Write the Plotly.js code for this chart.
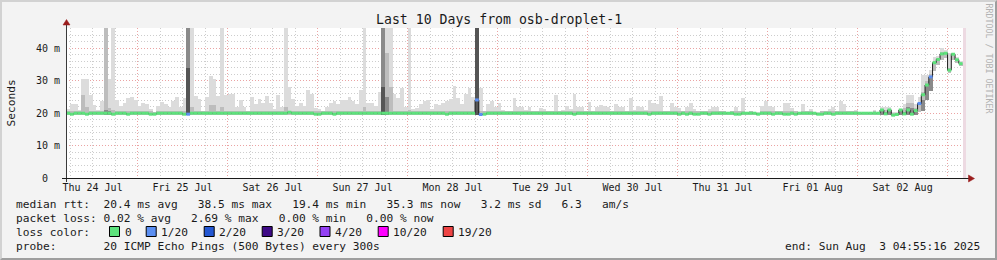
<!DOCTYPE html>
<html><head><meta charset="utf-8">
<script src="https://cdn.plot.ly/plotly-3.0.1.min.js"></script>
<style>
html,body{margin:0;padding:0;background:#f3f3f3;}
#wrap{position:relative;width:997px;height:260px;overflow:hidden;}
#chart{width:997px;height:260px;}
#frame{position:absolute;left:0;top:0;width:997px;height:260px;box-sizing:border-box;border-top:2px solid #d2d2d2;border-left:2px solid #d2d2d2;border-right:2px solid #9e9e9e;border-bottom:2px solid #9e9e9e;pointer-events:none;}
</style></head><body>
<div id="wrap"><div id="chart"></div><div id="frame"></div></div>
<script>
// ---- data: hourly bins, first bin starts 2025-07-24 05:00 ----
const binStart = '2025-07-24T05:00:00Z';
const rangeStart = '2025-07-24 04:55:16';
const rangeEnd = '2025-08-03 04:55:16';

const smokeHi = [
21.4,22.8,22.8,21.0,30.6,30.6,25.7,22.5,21.0,23.7,60,30.6,60,24.1,22.3,23.1,24.6,25.1,24.1,22.3,
23.1,22.8,21.3,20.4,22.3,23.6,22.8,22.0,23.7,25.1,21.8,24.6,60,60,25.4,24.4,20.6,24.9,31.6,30.6,
25.4,60,25.7,25.9,25.9,21.8,24.1,22.0,20.8,24.9,22.8,24.4,23.0,25.4,23.3,21.3,25.7,21.8,60,28.2,
24.4,22.3,23.1,22.3,27.1,25.8,21.6,21.3,20.6,22.0,23.3,23.7,22.8,24.1,24.1,24.9,23.7,22.8,27.1,60,
23.3,23.3,22.3,26.4,60,60,60,25.9,24.6,27.8,22.0,60,21.3,21.6,22.8,23.7,24.1,21.3,22.8,22.5,
23.3,23.7,24.4,28.5,24.6,22.8,25.9,27.8,25.1,60,27.8,20.6,22.8,23.7,22.0,23.3,21.0,20.6,20.6,24.6,
21.8,21.8,21.0,22.0,20.8,20.6,21.6,21.3,20.6,20.6,25.7,20.8,21.0,22.3,21.3,25.9,22.0,22.0,20.6,23.4,
20.6,22.0,22.5,22.3,22.0,20.6,22.8,22.0,22.0,20.6,24.6,21.0,22.3,22.0,21.0,24.1,23.0,22.8,25.4,20.6,
20.6,23.1,22.0,21.6,20.6,21.8,23.1,21.3,20.8,20.6,20.6,21.3,22.0,22.0,20.6,20.6,20.3,20.8,21.8,20.6,
24.6,20.3,20.8,20.5,20.3,22.1,23.7,22.3,21.8,20.6,20.6,23.1,23.1,21.6,20.6,20.3,22.8,20.6,21.3,20.3,
20.3,20.6,20.6,21.3,21.8,20.8,23.7,22.8,20.8,20.6,21.0,20.2,20.2,20.2,20.2,21.0,20.2,21.8,21.8,21.8,
20.4,20.4,21.3,22.8,25.7,25.7,22.8,25.0,31.9,31.9,33.3,37.2,37.7,40.1,39.4,38.5,38.7,37.2,36.0,null];

const smokeLo = [
19.5,19.5,19.5,19.5,19.5,19.5,19.5,19.5,19.5,19.5,19.5,19.5,19.5,19.5,19.5,19.5,19.5,19.5,19.5,19.5,
19.5,19.5,19.5,19.5,19.5,19.5,19.5,19.5,19.5,19.5,19.5,19.5,19.5,19.5,19.5,19.5,19.5,19.5,19.5,19.5,
19.5,19.5,19.5,19.5,19.5,19.5,19.5,19.5,19.5,19.5,19.5,19.5,19.5,19.5,19.5,19.5,19.5,19.5,19.5,19.5,
19.5,19.5,19.5,19.5,19.5,19.5,19.5,19.5,19.5,19.5,19.5,19.5,19.5,19.5,19.5,19.5,19.5,19.5,19.5,19.5,
19.5,19.5,19.5,19.5,19.5,19.5,19.5,19.5,19.5,19.5,19.5,19.5,19.5,19.5,19.5,19.5,19.5,19.5,19.5,19.5,
19.5,19.5,19.5,19.5,19.5,19.5,19.5,19.5,19.5,19.5,19.5,19.5,19.5,19.5,19.5,19.5,19.5,19.5,19.5,19.5,
19.5,19.5,19.5,19.5,19.5,19.5,19.5,19.5,19.5,19.5,19.5,19.5,19.5,19.5,19.5,19.5,19.5,19.5,19.5,19.5,
19.5,19.5,19.5,19.5,19.5,19.5,19.5,19.5,19.5,19.5,19.5,19.5,19.5,19.5,19.5,19.5,19.5,19.5,19.5,19.5,
19.5,19.5,19.5,19.5,19.5,19.5,19.5,19.5,19.5,19.5,19.5,19.5,19.5,19.5,19.5,19.5,19.5,19.5,19.5,19.5,
19.5,19.5,19.5,19.5,19.5,19.5,19.5,19.5,19.5,19.5,19.5,19.5,19.5,19.5,19.5,19.5,19.5,19.5,19.5,19.5,
19.5,19.5,19.5,19.5,19.5,19.5,19.5,19.5,19.5,19.5,19.5,19.5,19.5,19.5,19.5,19.5,19.5,19.3,19.3,19.3,
19.3,19.3,19.3,19.3,19.3,19.3,19.3,20.5,20.6,24.0,27.0,33.0,35.0,36.5,37.0,32.5,36.5,35.5,34.5,null];

const smokeMid = [
20.6,20.6,20.6,20.6,25.6,22.0,20.6,20.6,20.6,20.6,60,21.5,21.0,20.6,20.6,20.6,20.6,20.6,20.6,20.6,
20.6,20.6,20.6,20.4,20.6,20.6,20.6,20.6,20.6,20.6,20.6,20.6,60,22.0,20.6,20.6,20.6,20.6,22.5,22.5,
20.6,22.0,20.6,20.6,20.6,20.6,20.6,20.6,20.6,20.6,20.6,20.6,20.6,20.6,20.6,20.6,20.6,20.6,22.0,20.6,
20.6,20.6,20.6,20.6,20.6,20.6,20.6,20.6,20.6,20.6,20.6,20.6,20.6,20.6,20.6,20.6,20.6,20.6,20.6,22.0,
20.6,20.6,20.6,20.6,60,38.5,28.0,20.6,20.6,20.6,20.6,21.0,20.6,20.6,20.6,20.6,20.6,20.6,20.6,20.6,
20.6,20.6,20.6,20.6,20.6,20.6,20.6,20.6,20.6,60,20.6,20.6,20.6,20.6,20.6,20.6,20.6,20.6,20.6,20.6,
20.6,20.6,20.6,20.6,20.6,20.6,20.6,20.6,20.6,20.6,20.6,20.6,20.6,20.6,20.6,20.6,20.6,20.6,20.6,20.6,
20.6,20.6,20.6,20.6,20.6,20.6,20.6,20.6,20.6,20.6,20.6,20.6,20.6,20.6,20.6,20.6,20.6,20.6,20.6,20.6,
20.6,20.6,20.6,20.6,20.6,20.6,20.6,20.6,20.6,20.6,20.6,20.6,20.6,20.6,20.6,20.6,20.2,20.6,20.6,20.6,
20.6,20.2,20.6,20.4,20.2,20.6,20.6,20.6,20.6,20.6,20.6,20.6,20.6,20.6,20.6,20.2,20.6,20.6,20.6,20.2,
20.2,20.6,20.6,20.6,20.6,20.6,20.6,20.6,20.6,20.6,20.6,20.1,20.1,20.1,20.1,20.6,20.1,21.0,21.0,21.0,
20.2,20.2,21.0,21.5,23.3,23.3,21.5,22.5,26.4,30.0,32.0,36.0,37.0,38.8,38.8,34.0,38.5,36.8,35.5,null];

// darker smoke (many pings in range)
const darkBins = [10,11,32,84,85,217,218,219,222,223,224,225,226,228,229,230];
const darkTop  = [21.0,20.8,60,60,25.0,20.8,20.5,20.8,20.8,20.5,21.8,21.5,21.0,24.0,29.0,31.5];
const darkestBins = [32,84,109];
const darkestTop  = [33.9,28.0,60];

const median = [
20.0,19.7,20.0,20.0,20.0,19.7,20.0,20.0,20.0,20.0,20.0,20.0,19.7,20.0,20.0,20.0,19.7,20.0,20.0,20.0,
20.0,20.0,19.7,19.7,20.0,20.0,20.0,20.0,20.0,20.0,20.0,19.7,19.7,20.0,20.0,20.0,20.0,20.0,20.0,20.0,
20.0,20.0,20.0,20.0,20.0,20.0,20.0,20.0,20.0,20.0,20.0,20.0,20.0,20.0,20.0,20.0,20.0,20.0,20.0,20.3,
20.0,20.0,20.0,20.0,20.0,20.0,19.7,19.7,20.0,20.0,20.0,19.7,20.0,20.0,20.0,20.0,20.0,20.0,20.0,20.0,
20.0,20.0,20.0,20.0,20.0,20.0,20.0,20.0,20.0,20.0,20.0,20.0,20.0,20.0,20.0,20.0,20.0,20.0,20.0,20.0,
20.0,19.7,20.0,20.0,20.0,20.0,20.0,20.0,20.0,24.1,19.6,19.7,20.0,20.0,20.0,20.0,20.0,20.0,20.0,20.0,
20.0,20.0,20.0,20.0,20.0,20.0,20.0,20.0,20.0,20.0,20.0,20.0,20.0,20.0,20.0,19.7,20.0,20.0,20.0,20.0,
20.0,20.0,20.0,20.0,20.0,20.0,20.0,20.0,20.0,20.0,20.0,20.0,20.0,20.0,20.0,19.7,20.0,20.0,20.0,20.0,
20.0,20.0,20.0,19.7,20.0,19.7,20.0,19.7,19.7,20.0,20.0,19.7,20.0,20.0,20.0,20.0,20.0,20.0,19.7,19.7,
20.0,20.0,20.0,20.0,19.7,20.0,20.0,20.0,19.7,20.0,20.0,19.7,19.7,20.0,19.7,20.0,20.0,20.0,20.0,20.0,
19.7,19.7,20.0,20.0,19.7,20.0,20.0,20.0,20.0,20.0,20.0,20.0,20.0,20.0,20.0,20.0,20.0,21.0,19.8,21.0,
19.4,19.6,21.0,19.8,21.0,19.7,20.8,23.0,25.7,28.7,31.2,35.6,36.6,38.3,38.5,33.3,38.2,36.5,35.3,null];

const lossCount = [
0,0,0,0,0,0,0,0,0,0,0,0,0,0,0,0,0,0,0,0,
0,0,0,0,0,0,0,0,0,0,0,0,1,0,0,0,0,0,0,0,
0,0,0,0,0,0,0,0,0,0,0,0,0,0,0,0,0,0,0,0,
0,0,0,0,0,0,0,0,0,0,0,0,0,0,0,0,0,0,0,0,
0,0,0,0,0,0,0,0,0,0,0,0,0,0,0,0,0,0,0,0,
0,0,0,0,0,0,0,0,0,1,1,0,0,0,0,0,0,0,0,0,
0,0,0,0,0,0,0,0,0,0,0,0,0,0,0,0,0,0,0,0,
0,0,0,0,0,0,0,0,0,0,0,0,0,0,0,0,0,0,0,0,
0,0,0,0,0,0,0,0,0,0,0,0,0,0,0,0,0,0,0,0,
0,0,0,0,0,0,0,0,0,0,0,0,0,0,0,0,0,0,0,0,
0,0,0,0,0,0,0,0,0,0,0,0,0,0,0,0,0,0,0,0,
0,0,0,0,0,0,0,1,0,0,1,0,0,0,0,0,0,0,0,null];

const lossKeys   = [0, 1, 2, 3, 4, 10, 19];
const lossLabels = ['0','1/20','2/20','3/20','4/20','10/20','19/20'];
const lossColors = ['#5de27c','#5b8ff2','#2357d2','#3e0a86','#9440f4','#ff00ff','#ee4444'];

const yTickVals = [0, 10, 20, 30, 40];
const yTickText = ['0\u00a0\u00a0', '10 m', '20 m', '30 m', '40 m'];

const titleText = 'Last 10 Days from osb-droplet-1';
const statLines = [
  'median rtt:  20.4 ms avg   38.5 ms max   19.4 ms min   35.3 ms now   3.2 ms sd   6.3   am/s',
  'packet loss: 0.02 % avg   2.69 % max   0.00 % min   0.00 % now',
  'loss color:',
  'probe:       20 ICMP Echo Pings (500 Bytes) every 300s'
];
const endText = 'end: Sun Aug \u00a03 04:55:16 2025';
const watermark = 'RRDTOOL / TOBI OETIKER';

// ---- build ----
const HOUR = 3600000;
const t0 = Date.parse(binStart);
const fmt = ms => { const d = new Date(ms); const p = n => String(n).padStart(2,'0');
  return `${d.getUTCFullYear()}-${p(d.getUTCMonth()+1)}-${p(d.getUTCDate())} ${p(d.getUTCHours())}:${p(d.getUTCMinutes())}:${p(d.getUTCSeconds())}`; };
const N = smokeHi.length;
const starts = [], centers = [], ends = [];
for (let i = 0; i < N; i++) {
  starts.push(fmt(t0 + i*HOUR)); centers.push(fmt(t0 + i*HOUR + HOUR/2)); ends.push(fmt(t0 + (i+1)*HOUR));
}

function band(tops, color) {
  return { type:'bar', x:centers, base:smokeLo,
    y: tops.map((t,i) => (t==null || smokeLo[i]==null) ? null : t - smokeLo[i]),
    width: HOUR, marker:{color:color, line:{width:0}}, hoverinfo:'skip' };
}
function sparse(bins, vals) { const a = new Array(N).fill(null); bins.forEach((b,k)=>a[b]=vals[k]); return a; }

const traces = [
  band(smokeHi, '#dcdcdc'),
  band(smokeMid, '#bdbdbd'),
  band(sparse(darkBins, darkTop), '#8a8a8a'),
  band(sparse(darkestBins, darkestTop), '#555555'),
  { type:'bar', x:centers, base:0, y: median.map(m => m==null ? 60 : null), width:HOUR,
    marker:{color:'#eddae2', line:{width:0}}, hoverinfo:'skip' },
  { type:'scatter', mode:'lines', x:starts, y:median, line:{shape:'hv', color:'#202020', width:1},
    connectgaps:false, hoverinfo:'skip' }
];
// coloured median markers, one trace per loss class (drawn above the black step line)
lossKeys.forEach((key, k) => {
  const xs = [], ys = [];
  median.forEach((m, i) => {
    if (m == null || lossCount[i] !== key) return;
    xs.push(starts[i], ends[i], null); ys.push(m, m, null);
  });
  if (xs.length) traces.push({ type:'scatter', mode:'lines', x:xs, y:ys,
    line:{color:lossColors[k], width:3}, connectgaps:false, hoverinfo:'skip' });
});

// pixel helpers for layout decorations (plot area: x 66..966, y 28..178)
const PX = px => (px - 66) / 900;
const PY = py => (178 - py) / 150;
const FONT = 'DejaVu Sans Mono';
function ann(text, px, py, size, opts) {
  return Object.assign({ text, x:PX(px), y:PY(py), xref:'paper', yref:'paper', showarrow:false,
    xanchor:'left', yanchor:'middle', borderpad:0, font:{family:FONT, size:size, color:'#1a1a1a'} }, opts||{});
}
const annotations = [
  ann(titleText, 498.5, 19.5, 13.2, {xanchor:'center'}),
  ann('Seconds', 10.5, 103, 11.2, {xanchor:'center', textangle:-90}),
  ann(watermark, 988.5, 59, 8.3, {xanchor:'center', textangle:90, font:{family:FONT, size:8.3, color:'#b2b2b2'}}),
  ann(statLines[0], 15, 204.5, 11.2),
  ann(statLines[1], 15, 218.5, 11.2),
  ann(statLines[2], 15, 232.3, 11.2),
  ann(statLines[3], 15, 246.3, 11.2),
  ann(endText, 980.5, 246.3, 11.2, {xanchor:'right'})
];
const boxX = [109, 145.7, 203.7, 261.7, 319.5, 377.7, 442.7];
const shapes = [];
lossLabels.forEach((lab, k) => {
  shapes.push({ type:'rect', xref:'paper', yref:'paper', x0:PX(boxX[k]+0.5), x1:PX(boxX[k]+10.5),
    y0:PY(226.5), y1:PY(236.5), fillcolor:lossColors[k], line:{color:'#000', width:1} });
  annotations.push(ann(lab, boxX[k]+14.5, 232.3, 11.2));
});
// axis lines and arrows
shapes.push({ type:'line', xref:'paper', yref:'paper', x0:PX(66.5), x1:PX(66.5), y0:PY(182), y1:PY(24),
  line:{color:'#3a3a3a', width:1} });
shapes.push({ type:'line', xref:'paper', yref:'paper', x0:PX(62), x1:PX(969), y0:PY(178.5), y1:PY(178.5),
  line:{color:'#1a1a1a', width:1} });
const P = (x,y) => `${PX(x)},${PY(y)}`;
shapes.push({ type:'path', xref:'paper', yref:'paper', path:`M${P(66.5,19.5)} L${P(63,25)} L${P(70,25)} Z`,
  fillcolor:'#9a1c1c', line:{color:'#9a1c1c', width:0.5} });
shapes.push({ type:'path', xref:'paper', yref:'paper', path:`M${P(974.5,178.5)} L${P(968.5,175)} L${P(968.5,182)} Z`,
  fillcolor:'#9a1c1c', line:{color:'#9a1c1c', width:0.5} });

const layout = {
  width:997, height:260, margin:{l:66, r:31, t:28, b:82, pad:0},
  paper_bgcolor:'#f3f3f3', plot_bgcolor:'#ffffff',
  barmode:'overlay', bargap:0, showlegend:false,
  font:{family:FONT, size:10, color:'#1a1a1a'},
  xaxis:{ type:'date', range:[rangeStart, rangeEnd], tick0:'2025-07-24 00:00:00', dtick:86400000,
    tickformat:'%a %d %b', ticklabelmode:'period', ticks:'', ticklabelstandoff:2,
    showgrid:true, gridcolor:'#eba3a3', griddash:'1px,2px', gridwidth:1, zeroline:false, showline:false,
    tickfont:{family:FONT, size:10, color:'#1a1a1a'}, fixedrange:true,
    minor:{ tick0:'2025-07-24 00:00:00', dtick:21600000, showgrid:true, gridcolor:'#cdcdcd', griddash:'1px,2px', gridwidth:1 } },
  yaxis:{ range:[0, 46.3], tickmode:'array', tickvals:yTickVals, ticktext:yTickText, ticks:'', ticklabelstandoff:5,
    showgrid:true, gridcolor:'#eba3a3', griddash:'1px,2px', gridwidth:1, zeroline:false, showline:false,
    tickfont:{family:FONT, size:10, color:'#1a1a1a'}, fixedrange:true,
    minor:{ tick0:0, dtick:2, showgrid:true, gridcolor:'#cdcdcd', griddash:'1px,2px', gridwidth:1 } },
  shapes, annotations
};
Plotly.newPlot('chart', traces, layout, {staticPlot:true, displayModeBar:false});
</script>
</body></html>
